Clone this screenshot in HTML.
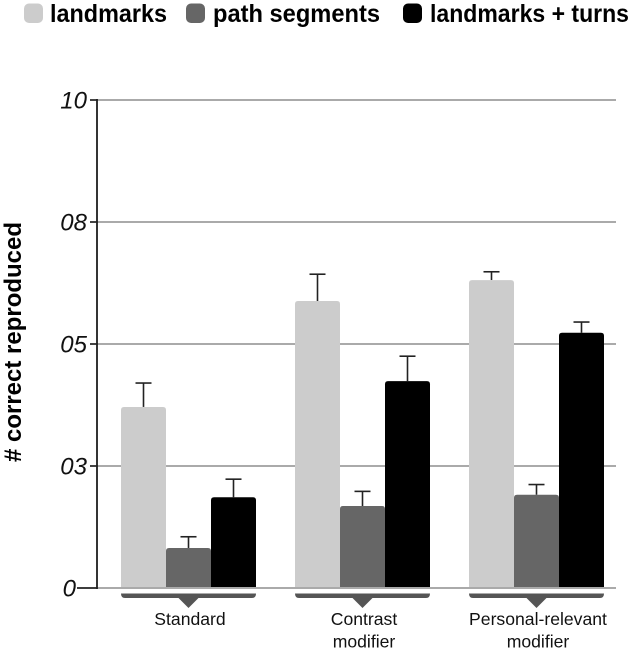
<!DOCTYPE html>
<html lang="en">
<head>
<meta charset="utf-8">
<title>Correct reproduced chart</title>
<style>
html,body{margin:0;padding:0;background:#fff;}
body{width:633px;height:652px;overflow:hidden;}
svg{display:block;font-family:"Liberation Sans",Arial,sans-serif;}
</style>
</head>
<body>
<svg id="chart" xmlns="http://www.w3.org/2000/svg" width="633" height="652" viewBox="0 0 633 652"></svg>
<script>
const categories = [["Standard"], ["Contrast", "modifier"], ["Personal-relevant", "modifier"]];
const seriesNames = ["landmarks", "path segments", "landmarks + turns"];
const landmarks = [3.71, 5.88, 6.31];
const pathSegments = [0.82, 1.68, 1.91];
const landmarksTurns = [1.86, 4.24, 5.23];
const landmarksErr = [0.49, 0.55, 0.17];
const pathSegmentsErr = [0.23, 0.30, 0.21];
const landmarksTurnsErr = [0.37, 0.51, 0.22];
const tickValues = [0, 2.5, 5, 7.5, 10];
const tickLabels = ["0", "03", "05", "08", "10"];

const NS = "http://www.w3.org/2000/svg";
const svg = document.getElementById("chart");
const COLORS = ["#cccccc", "#666666", "#000000"];
const Y0 = 588, PX_PER_UNIT = 48.8;
const GROUP_X0 = 121, GROUP_STEP = 174, BAR_W = 45;
function yScale(v) { return Y0 - v * PX_PER_UNIT; }
function groupX(i) { return GROUP_X0 + i * GROUP_STEP; }
function barX(g, s) { return groupX(g) + s * BAR_W; }
function mk(tag, attrs, text) {
  const el = document.createElementNS(NS, tag);
  for (const k in attrs) el.setAttribute(k, attrs[k]);
  if (text !== undefined) el.textContent = text;
  svg.appendChild(el);
  return el;
}

// gridlines
tickValues.forEach(function (v, i) {
  const g = mk("line", { x1: 97, x2: 616, y1: yScale(v), y2: yScale(v), stroke: "#aaaaaa", "stroke-width": 2 });
  
  
});

// bars and error bars
const seriesValues = [landmarks, pathSegments, landmarksTurns];
const seriesErrs = [landmarksErr, pathSegmentsErr, landmarksTurnsErr];
seriesValues.forEach(function (vals, s) {
  vals.forEach(function (v, g) {
    const x = barX(g, s);
    const top = yScale(v);
    const cx = x + BAR_W / 2;
    const errTop = yScale(v + seriesErrs[s][g]);
    const stem = mk("line", { x1: cx, x2: cx, y1: top, y2: errTop, stroke: "#222222", "stroke-width": 1.6 });
    
    
    const cap = mk("line", { x1: cx - 8, x2: cx + 8, y1: errTop, y2: errTop, stroke: "#222222", "stroke-width": 1.6 });
    
    
    const r = 3;
    const bar = mk("path", {
      d: "M" + x + " " + Y0 + "V" + (top + r) + "Q" + x + " " + top + " " + (x + r) + " " + top +
         "H" + (x + BAR_W - r) + "Q" + (x + BAR_W) + " " + top + " " + (x + BAR_W) + " " + (top + r) + "V" + Y0 + "Z",
      fill: COLORS[s]
    });
    
    
  });
});

// baseline redrawn over the bars' foot
const baseline = mk("line", { x1: 97, x2: 616, y1: Y0, y2: Y0, stroke: "#aaaaaa", "stroke-width": 2 });



// y axis
const yAxis = mk("line", { x1: 97, x2: 97, y1: yScale(10) - 1, y2: Y0 + 1, stroke: "#111111", "stroke-width": 1.7 });



tickValues.forEach(function (v, i) {
  const isZero = v === 0;
  const tick = mk("line", { x1: isZero ? 77 : 90, x2: 97, y1: yScale(v), y2: yScale(v), stroke: "#222222", "stroke-width": 1.7 });
  
  
  const label = mk("text", {
    x: isZero ? 76 : 87, y: yScale(v) + 8.5, "text-anchor": "end",
    "font-size": 24, "font-style": "italic", fill: "#111111"
  }, tickLabels[i]);
  
  
});

// category brackets and labels
categories.forEach(function (lines, g) {
  const x0 = barX(g, 0), x1 = barX(g, 3), mid = (x0 + x1) / 2;
  const top = 593.5, bot = 598;
  const br = mk("path", {
    d: "M" + x0 + " " + top + "H" + x1 + "Q" + x1 + " " + bot + " " + (x1 - 4) + " " + bot +
       "H" + (mid + 10) + "L" + mid + " " + (bot + 10) + "L" + (mid - 10) + " " + bot +
       "H" + (x0 + 4) + "Q" + x0 + " " + bot + " " + x0 + " " + top + "Z",
    fill: "#555555"
  });
  
  
  lines.forEach(function (line, j) {
    const t = mk("text", {
      x: mid + 1.5, y: 625 + j * 22.5, "text-anchor": "middle", "font-size": 17.6, fill: "#111111"
    }, line);
    
    
  });
});

// y axis title
const yTitle = mk("text", {
  transform: "translate(21 342) rotate(-90)", "text-anchor": "middle",
  "font-size": 24, "font-weight": "bold", fill: "#000000"
}, "# correct reproduced");



// legend
const legendSwatchX = [24, 186, 403];
const legendTextX = [50, 213, 430];
const legendTextW = [117, 167, 199];
seriesNames.forEach(function (name, s) {
  const sw = mk("rect", { x: legendSwatchX[s], y: 3.5, width: 19, height: 19.5, rx: 5, ry: 5, fill: COLORS[s] });
  
  
  const t = mk("text", {
    x: legendTextX[s], y: 22, "font-size": 25, "font-weight": "bold", fill: "#000000",
    textLength: legendTextW[s], lengthAdjust: "spacingAndGlyphs"
  }, name);
  
  
});
</script>
</body>
</html>
